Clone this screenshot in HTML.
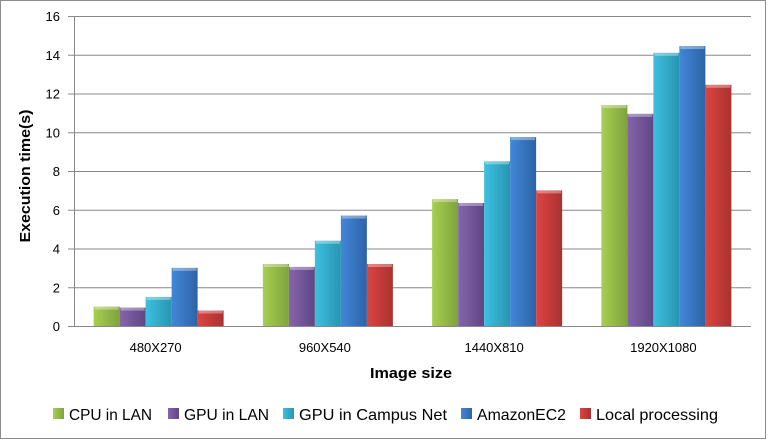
<!DOCTYPE html>
<html><head><meta charset="utf-8"><style>
body{margin:0;background:#fff;}
svg{display:block;font-family:"Liberation Sans",sans-serif;}
</style></head><body>
<svg id="chart" width="768" height="441">
<defs>
<linearGradient id="g0" x1="0" x2="1"><stop offset="0" stop-color="#a6cf52"/><stop offset="1" stop-color="#7fa33c"/></linearGradient>
<linearGradient id="g1" x1="0" x2="1"><stop offset="0" stop-color="#8565ac"/><stop offset="1" stop-color="#5f4684"/></linearGradient>
<linearGradient id="g2" x1="0" x2="1"><stop offset="0" stop-color="#3ec0e0"/><stop offset="1" stop-color="#2895b2"/></linearGradient>
<linearGradient id="g3" x1="0" x2="1"><stop offset="0" stop-color="#4287d8"/><stop offset="1" stop-color="#2d63a5"/></linearGradient>
<linearGradient id="g4" x1="0" x2="1"><stop offset="0" stop-color="#dc4442"/><stop offset="1" stop-color="#a93230"/></linearGradient>
</defs>
<rect x="0.5" y="0.5" width="765" height="438" fill="#fff" stroke="#8c8c8c"/>
<g id="grid"></g><g id="bars"></g><g id="labels"></g>
<text x="30" y="176" transform="rotate(-90 30 176)" font-size="15" font-weight="bold" text-anchor="middle" textLength="133" lengthAdjust="spacingAndGlyphs">Execution time(s)</text>
<text x="411" y="378" font-size="15" font-weight="bold" text-anchor="middle" textLength="82" lengthAdjust="spacingAndGlyphs">Image size</text>
<g id="legend"></g>
</svg>
<script>
const categories=["480X270","960X540","1440X810","1920X1080"];
const seriesNames=["CPU in LAN","GPU in LAN","GPU in Campus Net","AmazonEC2","Local processing"];
const cpuLan=[1.0,3.2,6.55,11.4];
const gpuLan=[0.95,3.05,6.35,10.95];
const gpuCampus=[1.5,4.4,8.5,14.1];
const amazon=[3.0,5.7,9.75,14.45];
const local=[0.8,3.2,7.0,12.45];
const yTicks=[0,2,4,6,8,10,12,14,16];
const series=[cpuLan,gpuLan,gpuCampus,amazon,local];
const NS="http://www.w3.org/2000/svg";
const L=74,R=751,T=16,B=326,yMax=16;
const y=v=>B-(v/yMax)*(B-T);
const cw=(R-L)/categories.length,bw=26,pad=(cw-bw*series.length)/2;
const x=(c,s)=>L+c*cw+pad+s*bw;
function mk(t,a,p){const e=document.createElementNS(NS,t);for(const k in a)e.setAttribute(k,a[k]);p.appendChild(e);return e;}
const grid=document.getElementById('grid'),bars=document.getElementById('bars'),lab=document.getElementById('labels'),leg=document.getElementById('legend');
yTicks.forEach(v=>{
 const l=mk('line',{x1:L-6,x2:R,y1:y(v)+0.5,y2:y(v)+0.5,stroke:'#888','stroke-width':1},grid);
 
 
 const t=mk('text',{x:60,y:y(v)+5,'font-size':13,'text-anchor':'end'},lab);t.textContent=v;
 
 
});
mk('line',{x1:L+0.5,x2:L+0.5,y1:T,y2:B,stroke:'#888'},grid);
series.forEach((arr,s)=>arr.forEach((v,c)=>{
 const r=mk('rect',{x:x(c,s),y:y(v),width:bw,height:B-y(v),fill:`url(#g${s})`},bars);
 
 
 mk('rect',{x:x(c,s)+1,y:y(v),width:bw-2,height:3,fill:'#fff','fill-opacity':0.35},bars);
}));
categories.forEach((c,i)=>{
 const t=mk('text',{x:L+i*cw+cw/2-3,y:352,'font-size':13,'text-anchor':'middle'},lab);t.textContent=c;
 
 
});
const lx=[53,168,283,461,580];
const lw=[83,85,148,89,122];
seriesNames.forEach((n,s)=>{
 const g=mk('g',{},leg);
 
 
 mk('rect',{x:lx[s],y:408,width:11,height:11,fill:`url(#g${s})`},g);
 const t=mk('text',{x:lx[s]+16,y:420,'font-size':16,textLength:lw[s],lengthAdjust:'spacingAndGlyphs'},g);t.textContent=n;
});
</script>
</body></html>
